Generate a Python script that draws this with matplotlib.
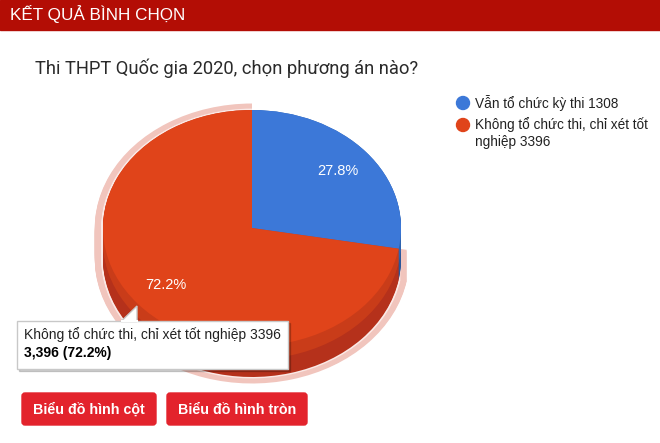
import textwrap
import matplotlib
matplotlib.use("Agg")
import matplotlib.pyplot as plt
from matplotlib.patches import Rectangle, Polygon, Circle, FancyBboxPatch

plt.rcParams['font.family'] = ['Liberation Sans', 'DejaVu Sans']

# du lieu binh chon
header = "KẾT QUẢ BÌNH CHỌN"
title = "Thi THPT Quốc gia 2020, chọn phương án nào?"
options = ["Vẫn tổ chức kỳ thi 1308", "Không tổ chức thi, chỉ xét tốt nghiệp 3396"]
votes = [1308, 3396]
top_colors = ["#3c78d8", "#e0441a"]
side_upper = ["#3064b0", "#c93c19"]
side_lower = ["#2a5699", "#b5311b"]
buttons = ["Biểu đồ hình cột", "Biểu đồ hình tròn"]
hover = 1  # lat cat dang duoc chon

W, H = 660, 443
fig = plt.figure(figsize=(6.6, 4.43), dpi=100)

# truc cho banh: tam (252,228) px, ban kinh ngang 149, doc 118
cx, cy, rx, ry = 252, 228, 149, 118
depth = 31 / ry
pax = fig.add_axes([0, 0, 1, 1])
n = 30
kw = dict(startangle=90, counterclock=False, frame=True,
          wedgeprops=dict(linewidth=0))

# vien hong quanh lat duoc chon
halo = ['none'] * len(votes)
halo[hover] = '#f1c5bd'
gap = ['none'] * len(votes)
gap[hover] = '#fbe9e6'
for k in range(n + 1):
    off = -depth * (1 - k / n)
    pax.pie(votes, radius=1.055, center=(0, off), colors=halo, **kw)
for k in range(n + 1):
    off = -depth * (1 - k / n)
    pax.pie(votes, radius=1.012, center=(0, off), colors=gap, **kw)

# thanh ben 3D (hai dai mau)
for k in range(n + 1):
    off = -depth * (1 - k / n)
    cols = side_upper if k > n * 0.55 else side_lower
    pax.pie(votes, radius=1.0, center=(0, off), colors=cols, **kw)

# mat tren
pax.pie(votes, radius=1.0, colors=top_colors, autopct=lambda p: f"{p:.1f}%",
        pctdistance=0.75, textprops=dict(color='white', fontsize=10.5), **kw)
pax.set_aspect('auto')
pax.set_xlim(-cx / rx, (W - cx) / rx)
pax.set_ylim((cy - H) / ry, cy / ry)
pax.axis('off')

# lop tren: tieu de, chu thich, tooltip, nut
ax = fig.add_axes([0, 0, 1, 1], zorder=3)
ax.patch.set_alpha(0)
ax.set_xlim(0, W)
ax.set_ylim(H, 0)
ax.axis('off')

ax.add_patch(Rectangle((0, 0), W, 30, color='#b30d05'))
ax.text(10, 14, header, color='white', fontsize=12.3, va='center')
ax.text(35, 68, title, color='#2a2a2a', fontsize=13.2, va='center',
        family=['Roboto', 'DejaVu Sans'])

# chu thich
leg_y = [103, 125]
for i, lab in enumerate(options):
    ax.add_patch(Circle((463, leg_y[i]), 6.5, color=top_colors[i]))
    ax.text(475, leg_y[i] - 8, textwrap.fill(lab, 30), fontsize=9.8,
            color='#222222', va='top', linespacing=1.25)

# tooltip
tx, ty, tw, th = 17, 321, 271, 48
ax.add_patch(Rectangle((tx + 2, ty + 2), tw, th, color='#000000', alpha=0.18))
ax.add_patch(Rectangle((tx, ty), tw, th, facecolor='white', edgecolor='#c8c8c8', lw=1))
ax.add_patch(Polygon([(121, ty + 0.5), (137, 306), (137, ty + 0.5)], closed=True,
                     facecolor='white', edgecolor='#c8c8c8', lw=1))
ax.plot([121.5, 136.5], [ty, ty], color='white', lw=1.5)
share = votes[hover] / sum(votes) * 100
ax.text(tx + 7, 335, options[hover], fontsize=10, color='#222222', va='center')
ax.text(tx + 7, 353, f"{votes[hover]:,} ({share:.1f}%)", fontsize=10,
        color='#000000', va='center', fontweight='bold')

# nut
bx = [22, 167]
bw = [134, 140]
for i, lab in enumerate(buttons):
    ax.add_patch(FancyBboxPatch((bx[i], 393), bw[i], 32,
                                boxstyle='round,pad=0,rounding_size=3',
                                color='#e3232c'))
    ax.text(bx[i] + bw[i] / 2, 409.5, lab, color='white', fontsize=10.3,
            fontweight='bold', ha='center', va='center')

fig.savefig('out.png', dpi=100, facecolor='white')
